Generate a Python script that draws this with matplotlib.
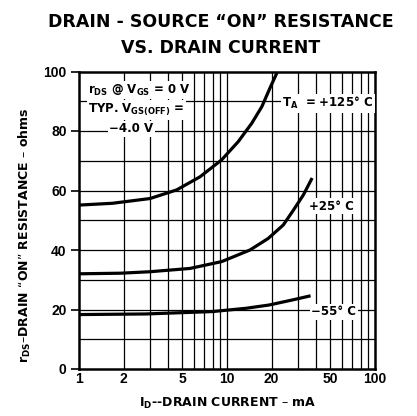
import matplotlib
matplotlib.use("Agg")
import matplotlib.pyplot as plt
from matplotlib.ticker import FixedLocator, NullFormatter, NullLocator

plt.rcParams['font.family'] = ['DejaVu Sans']
plt.rcParams['font.weight'] = 'bold'

# Data
id_125 = [1, 1.68, 3.02, 4.57, 6.57, 9.2, 11.9, 14.7, 17.2, 19.5, 21.9]
r_125 = [55.1, 55.7, 57.3, 60.2, 64.6, 70.3, 76.4, 82.6, 88.2, 94.4, 99.9]
id_25 = [1, 1.91, 3.02, 5.62, 9.2, 14.3, 19.0, 24.0, 28.1, 32.8, 37.6]
r_25 = [32.0, 32.2, 32.7, 33.8, 36.1, 40.0, 43.9, 48.4, 53.4, 58.5, 64.2]
id_m55 = [1, 2.82, 7.95, 13.4, 19.2, 27.6, 36.7]
r_m55 = [18.3, 18.5, 19.3, 20.4, 21.5, 23.2, 24.6]
x_ticks = [1, 2, 5, 10, 20, 50, 100]
y_ticks = [0, 20, 40, 60, 80, 100]

fig = plt.figure(figsize=(4.17, 4.16), dpi=100)
ax = fig.add_axes([79 / 417, 47 / 416, 296 / 417, 297.5 / 416])
ax.set_xscale('log')
ax.set_xlim(1, 100)
ax.set_ylim(0, 100)

# grid
for v in [2, 3, 4, 5, 6, 7, 8, 9, 10, 20, 30, 40, 50, 60, 70, 80, 90]:
    ax.axvline(v, color='black', lw=0.9, zorder=1)
for h in range(10, 100, 10):
    ax.axhline(h, color='black', lw=0.9, zorder=1)

for xs, ys in [(id_125, r_125), (id_25, r_25), (id_m55, r_m55)]:
    ax.plot(xs, ys, color='black', lw=2.3, zorder=3,
            solid_capstyle='butt', solid_joinstyle='round')

ax.xaxis.set_major_locator(FixedLocator(x_ticks))
ax.xaxis.set_minor_locator(NullLocator())
ax.xaxis.set_minor_formatter(NullFormatter())
ax.set_xticklabels([str(t) for t in x_ticks])
ax.set_yticks(y_ticks)
ax.tick_params(axis='x', length=0, labelsize=10, pad=2)
ax.tick_params(axis='y', length=6, width=1.2, direction='out', labelsize=10, pad=3)
for lbl in ax.get_xticklabels() + ax.get_yticklabels():
    lbl.set_fontweight('bold')
    lbl.set_family(['Liberation Sans', 'DejaVu Sans'])

for s in ax.spines.values():
    s.set_linewidth(1.8)

bb = dict(facecolor='white', edgecolor='none', pad=1)
ax.text(1.15, 92.5, r'r$_{\mathregular{DS}}$ @ V$_{\mathregular{GS}}$ = 0 V', fontsize=8.5, fontweight='bold', bbox=bb, zorder=4)
ax.text(1.15, 86, r'TYP. V$_{\mathregular{GS(OFF)}}$ =', fontsize=8.5, fontweight='bold', bbox=bb, zorder=4)
ax.text(1.6, 79.5, '−4.0 V', fontsize=8.5, fontweight='bold', bbox=bb, zorder=4)
ax.text(23.5, 88, r'T$_{\mathregular{A}}$  = +125° C', fontsize=8.5, fontweight='bold', bbox=bb, zorder=4)
ax.text(36, 53.5, '+25° C', fontsize=8.5, fontweight='bold', bbox=bb, zorder=4)
ax.text(37, 18, '−55° C', fontsize=8.5, fontweight='bold', bbox=bb, zorder=4)

fig.text(0.53, 0.947, 'DRAIN - SOURCE “ON” RESISTANCE', ha='center', va='center', fontsize=12.5, fontweight='bold')
fig.text(0.53, 0.885, 'VS. DRAIN CURRENT', ha='center', va='center', fontsize=12.5, fontweight='bold')

fig.text(0.546, 0.031, r'I$_{\mathregular{D}}$--DRAIN CURRENT – mA', ha='center', va='center', fontsize=9, fontweight='bold')
fig.text(0.06, 0.435, r'r$_{\mathregular{DS}}$–DRAIN “ON” RESISTANCE – ohms', ha='center', va='center', rotation=90, fontsize=9, fontweight='bold')

fig.savefig('out.png', dpi=100)
